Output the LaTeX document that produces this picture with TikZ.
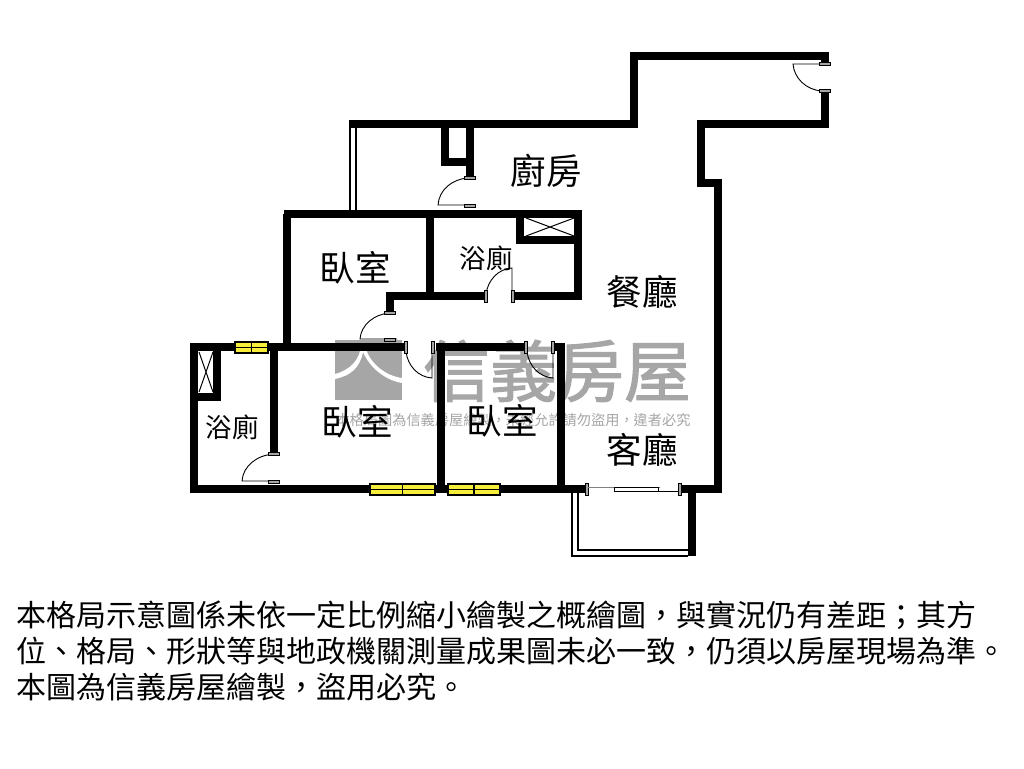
\documentclass[tikz,border=0pt]{standalone}
\usepackage{fontspec}
\setmainfont{Noto Sans CJK TC}
\newfontfamily\brandfont[FakeBold=1.6]{Noto Sans CJK TC}
\definecolor{glass}{HTML}{F7EE3C}
\definecolor{brandgray}{HTML}{A6A6A6}

\begin{document}
\begin{tikzpicture}[x=1pt,y=-1pt,
    wall/.style={line width=8.4pt,line cap=butt,line join=miter,black},
    thin wall/.style={line width=1.6pt,black},
    door/.style={line width=0.9pt,black},
    hinge/.style={fill=gray!70,draw=black,line width=0.4pt,minimum width=11pt,minimum height=3pt,inner sep=0pt,outer sep=0pt},
    window/.style={fill=glass,draw=black,line width=2pt},
    room big/.style={font=\fontsize{35.5}{36}\selectfont,inner sep=0pt},
    room small/.style={font=\fontsize{26.5}{27}\selectfont,inner sep=0pt},
    note/.style={font=\fontsize{30}{30}\selectfont,anchor=west,inner sep=0pt}]

                \useasboundingbox (0,0) rectangle (1024,768);
                \fill[white] (0,0) rectangle (1024,768);

                \fill[brandgray] (335,340) rectangle (402,400);
                \fill[white] (335,374) .. controls (350,370) and (360,360) .. (361,345) -- (365,345) .. controls (368,362) and (385,376) .. (402,378) -- (402,383) .. controls (385,380) and (370,368) .. (363,352) .. controls (360,368) and (350,376) .. (335,379) -- cycle;
                \node[text=brandgray,font=\brandfont\fontsize{67}{67}\selectfont,inner sep=0pt] (brand) at (557,371) {信義房屋};
                \node[text=brandgray,font=\fontsize{14.2}{15}\selectfont,inner sep=0pt] (warn) at (513,420) {本格局圖為信義房屋繪製，未經允許請勿盜用，違者必究};

                \draw[wall] (349,124) -- (634,124) -- (634,56) -- (825,56) -- (825,64);
                \draw[wall] (825,90) -- (825,124) -- (701,124) -- (701,183) -- (718,183) -- (718,489) -- (680,489);
                \draw[wall] (692,489) -- (692,556);
                \draw[wall] (445,124) -- (445,162) -- (470,162);
                \draw[wall] (470,124) -- (470,178);
                \draw[wall] (284,214) -- (582,214);
                \draw[wall] (287,214) -- (287,347);
                \draw[wall] (430,214) -- (430,296);
                \draw[wall] (520,214) -- (520,240) -- (578,240);
                \draw[wall] (578,214) -- (578,300);
                \draw[wall] (390,312) -- (390,296) -- (486,296);
                \draw[wall] (514,296) -- (582,296);
                \draw[wall] (190,347) -- (405,347);
                \draw[wall] (436,347) -- (526,347);
                \draw[wall] (553,347) -- (565,347);
                \draw[wall] (194,347) -- (194,493);
                \draw[wall] (217,347) -- (217,397) -- (194,397);
                \draw[wall] (274,347) -- (274,454);
                \draw[wall] (441,347) -- (441,489);
                \draw[wall] (561,347) -- (561,489);
                \draw[wall] (190,489) -- (587,489);

                \draw[thin wall] (350,128) -- (350,210);
                \draw[thin wall] (356,128) -- (356,210);
                \draw[thin wall] (572,493) -- (572,556) -- (688,556);
                \draw[thin wall] (578,493) -- (578,550) -- (688,550);

                \draw[line width=1pt] (526,218) -- (574,236) (526,236) -- (574,218);
                \draw[line width=1pt] (199,352) -- (213,392) (213,352) -- (199,392);

                \foreach \wx/\wy/\ww/\wh in {235/342/33/11,370/484/65/11,448/484/52/11}{
                    \draw[window] (\wx,\wy) rectangle ++(\ww,\wh);
                    \draw[line width=1.4pt] (\wx,\wy+\wh/2) -- ++(\ww,0) (\wx+\ww/2,\wy) -- ++(0,\wh);
                }

                \draw[door] (468,178) .. controls (452,179) and (439,190) .. (438,205) -- (470,205);
                \draw[door] (390,313) .. controls (374,314) and (361,325) .. (360,339) -- (397,339);
                \draw[door] (274,454) .. controls (257,455) and (243,466) .. (242,481) -- (278,481);
                \draw[door] (825,64) -- (793,64) .. controls (794,78) and (806,90) .. (822,91);
                \draw[door] (486,294) .. controls (488,280) and (498,269) .. (512,268) -- (512,294);
                \draw[door] (406,352) .. controls (408,366) and (418,377) .. (432,378) -- (432,346);
                \draw[door] (527,352) .. controls (529,366) and (539,377) .. (553,378) -- (553,346);

                \foreach \hx/\hy in {470/178,470/206,390/313,390/340,274/454,274/482,825/64,825/91}{
                    \node[hinge] at (\hx,\hy) {};
                }
                \foreach \hx/\hy in {486/296,513/296,406/347,433/347,526/347,553/347,587/489,680/489}{
                    \node[hinge,minimum width=3pt,minimum height=12pt] at (\hx,\hy) {};
                }

                \draw[line width=1pt,gray] (588,487) -- (660,487);
                \draw[line width=1pt] (614,487) rectangle (658,491);
                \draw[line width=0.8pt] (658,491) -- (679,491);

                \node[room big] (kitchen) at (546,171) {廚房};
                \node[room big] (dining) at (642,292) {餐廳};
                \node[room big] (living) at (642,450) {客廳};
                \node[room big] (bed a) at (355,268) {臥室};
                \node[room big] (bed b) at (357,422) {臥室};
                \node[room big] (bed c) at (502,421) {臥室};
                \node[room small] (bath a) at (486,258) {浴廁};
                \node[room small] (bath b) at (232,427) {浴廁};

                \node[note] (line a) at (16.5,615) {本格局示意圖係未依一定比例縮小繪製之概繪圖，與實況仍有差距；其方};
                \node[note] (line b) at (16.5,651) {位、格局、形狀等與地政機關測量成果圖未必一致，仍須以房屋現場為準。};
                \node[note] (line c) at (16.5,687) {本圖為信義房屋繪製，盜用必究。};

            \end{tikzpicture}
\end{document}
